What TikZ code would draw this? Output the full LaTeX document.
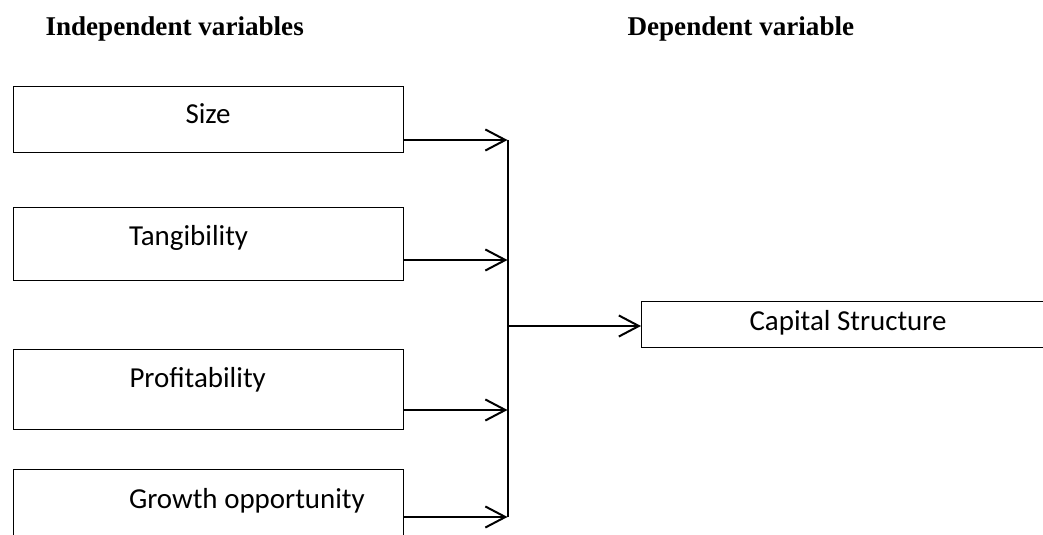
\documentclass[tikz,border=0pt]{standalone}
\usepackage{fontspec}
\setmainfont{Liberation Serif}
\newfontfamily\boxfont{Carlito}
\usepackage{tikz}
\usetikzlibrary{arrows.meta}

\begin{document}
\begin{tikzpicture}[x=0.38pt,y=-0.38pt,
            varbox/.style 2 args={draw,line width=0.5pt,inner sep=0pt,anchor=north west,
                minimum width=#1*0.38pt,minimum height=#2*0.38pt},
            lbl/.style={font=\boxfont\fontsize{11}{13}\selectfont,inner sep=0pt,anchor=base west},
            head/.style={font=\fontsize{10.3}{12}\selectfont\bfseries,inner sep=0pt,anchor=base west},
            arr/.style={line width=0.76pt,-{Straight Barb[length=7.6pt,width=8pt]}}]
            \useasboundingbox (0,0) rectangle (1043,535);
            \clip (0,0) rectangle (1043,535);

            \node[head] (indep) at (45,36) {Independent variables};
            \node[head] (dep) at (627,36) {Dependent variable};

            \node[varbox={390}{66}] (size) at (13,86) {};
            \node[varbox={390}{73}] (tang) at (13,207) {};
            \node[varbox={390}{80}] (prof) at (13,349) {};
            \node[varbox={390}{95}] (grow) at (13,469) {};
            \node[varbox={430}{46}] (cap) at (641,301) {};

            \node[lbl] (sizetxt) at (185,124) {Size};
            \node[lbl] (tangtxt) at (128.5,246) {Tangibility};
            \node[lbl] (proftxt) at (129,387) {Profitability};
            \node[lbl] (growtxt) at (128.5,508) {Growth opportunity};
            \node[lbl] (captxt) at (749,331) {Capital Structure};

            \coordinate (j1) at (507.5,140);
            \coordinate (j2) at (507.5,260);
            \coordinate (j3) at (507.5,410);
            \coordinate (j4) at (507.5,517);
            \coordinate (j0) at (507.5,326);

            \draw[line width=0.76pt] (j1) -- (j4);
            \draw[arr] (size.east |- j1) -- (j1);
            \draw[arr] (tang.east |- j2) -- (j2);
            \draw[arr] (prof.east |- j3) -- (j3);
            \draw[arr] (grow.east |- j4) -- (j4);
            \draw[arr] (j0) -- (cap.west |- j0);
        \end{tikzpicture}
\end{document}
